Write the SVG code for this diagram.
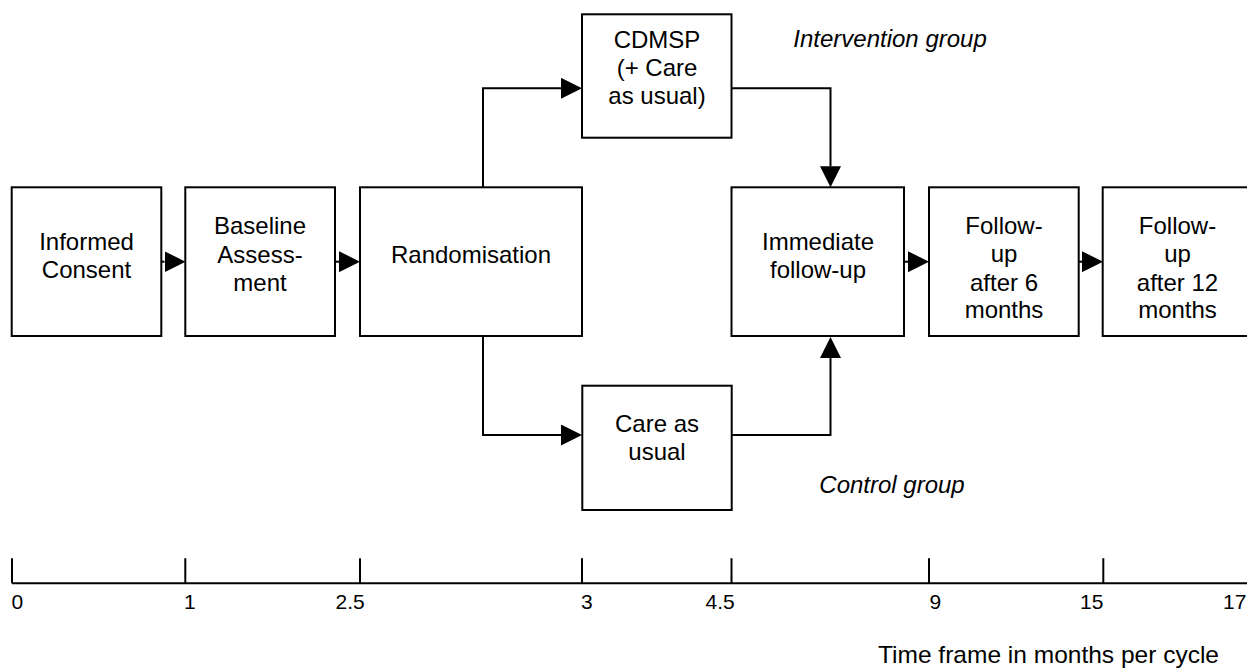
<svg xmlns="http://www.w3.org/2000/svg" width="1247" height="669" viewBox="0 0 1247 669">
<style>
.box{fill:#fff;stroke:#000;stroke-width:2}
.lbl{font-family:"Liberation Sans",Arial,Helvetica,sans-serif;font-size:24px;fill:#000;text-anchor:middle}
.grp{font-family:"Liberation Sans",Arial,Helvetica,sans-serif;font-size:24px;font-style:italic;fill:#000}
.tick{font-family:"Liberation Sans",Arial,Helvetica,sans-serif;font-size:21px;fill:#000}
.conn{fill:none;stroke:#000;stroke-width:2}
.axis{fill:none;stroke:#000;stroke-width:2}
</style>
<defs>
<marker id="arr" viewBox="0 0 21 21" refX="0" refY="10.5" markerWidth="21" markerHeight="21" markerUnits="userSpaceOnUse" orient="auto">
<path d="M0,0 L21,10.5 L0,21 z" fill="#000"/>
</marker>
</defs>
<rect width="1247" height="669" fill="#fff"/>

<g id="connectors">
<path class="conn" d="M161.3,261.7 H164.5" marker-end="url(#arr)"/>
<path class="conn" d="M335,261.7 H339" marker-end="url(#arr)"/>
<path class="conn" d="M904,261.7 H908" marker-end="url(#arr)"/>
<path class="conn" d="M1078.7,261.7 H1082" marker-end="url(#arr)"/>
<path class="conn" d="M483,187.3 V88.3 H561" marker-end="url(#arr)"/>
<path class="conn" d="M483,336 V435 H561" marker-end="url(#arr)"/>
<path class="conn" d="M731.5,88.3 H830.5 V166.3" marker-end="url(#arr)"/>
<path class="conn" d="M731.5,435 H830.5 V358" marker-end="url(#arr)"/>
</g>

<g id="n-consent">
<rect class="box" x="11.7" y="187.3" width="149.6" height="148.7"/>
<text class="lbl" x="86.5" y="250">Informed</text>
<text class="lbl" x="86.5" y="278.3">Consent</text>
</g>
<g id="n-baseline">
<rect class="box" x="185.3" y="187.3" width="149.7" height="148.7"/>
<text class="lbl" x="260" y="234">Baseline</text>
<text class="lbl" x="260" y="262.5">Assess-</text>
<text class="lbl" x="260" y="290.7">ment</text>
</g>
<g id="n-random">
<rect class="box" x="360" y="187.3" width="222" height="148.7"/>
<text class="lbl" x="471" y="262.5">Randomisation</text>
</g>
<g id="n-cdmsp">
<rect class="box" x="582" y="14.3" width="149.5" height="123.4"/>
<text class="lbl" x="657" y="47.7">CDMSP</text>
<text class="lbl" x="657" y="76.2">(+ Care</text>
<text class="lbl" x="657" y="104.3">as usual)</text>
</g>
<g id="n-care">
<rect class="box" x="582.3" y="385.7" width="149.4" height="124.3"/>
<text class="lbl" x="657" y="431.7">Care as</text>
<text class="lbl" x="657" y="460">usual</text>
</g>
<g id="n-immediate">
<rect class="box" x="731.5" y="187.3" width="172.5" height="148.7"/>
<text class="lbl" x="818" y="250">Immediate</text>
<text class="lbl" x="818" y="278.3">follow-up</text>
</g>
<g id="n-fu6">
<rect class="box" x="929" y="187.3" width="149.7" height="148.7"/>
<text class="lbl" x="1004" y="234">Follow-</text>
<text class="lbl" x="1004" y="261.7">up</text>
<text class="lbl" x="1004" y="290.5">after 6</text>
<text class="lbl" x="1004" y="318.3">months</text>
</g>
<g id="n-fu12">
<rect class="box" x="1102.7" y="187.3" width="149.6" height="148.7"/>
<text class="lbl" x="1177.5" y="234">Follow-</text>
<text class="lbl" x="1177.5" y="261.7">up</text>
<text class="lbl" x="1177.5" y="290.5">after 12</text>
<text class="lbl" x="1177.5" y="318.3">months</text>
</g>

<g id="group-labels">
<text class="grp" x="793.3" y="46.7">Intervention group</text>
<text class="grp" x="819.3" y="493">Control group</text>
</g>

<g id="timeline">
<path class="axis" d="M12,583.3 H1247 M12,558.3 V583.3 M185.3,558.3 V583.3 M360,558.3 V583.3 M582,558.3 V583.3 M731.5,558.3 V583.3 M929,558.3 V583.3 M1103.3,558.3 V583.3"/>
<text class="tick" x="11.5" y="608.5">0</text>
<text class="tick" x="184" y="608.5">1</text>
<text class="tick" x="335.5" y="608.5">2.5</text>
<text class="tick" x="581" y="608.5">3</text>
<text class="tick" x="705.5" y="608.5">4.5</text>
<text class="tick" x="929.5" y="608.5">9</text>
<text class="tick" x="1080" y="608.5">15</text>
<text class="tick" x="1223" y="608.5">17</text>
<text class="grp" style="font-style:normal" x="878" y="663.3" textLength="341" lengthAdjust="spacingAndGlyphs">Time frame in months per cycle</text>
</g>
</svg>
